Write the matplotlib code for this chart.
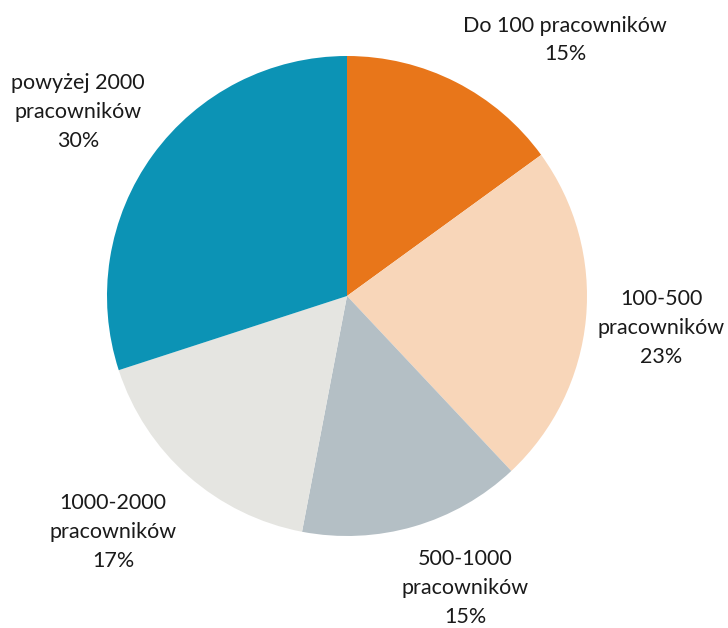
import matplotlib.pyplot as plt

# company size shares (clockwise from 12 o'clock)
categories = ['Do 100 pracowników', '100-500\npracowników', '500-1000\npracowników',
              '1000-2000\npracowników', 'powyżej 2000\npracowników']
shares = [15, 23, 15, 17, 30]
colors = ['#E8761A', '#F8D6B9', '#B4BFC5', '#E5E5E1', '#0C93B5']

# label anchor points in pixel coords (x, y from top)
label_pos = [(565, 40), (661, 328), (465, 588), (113, 532), (78, 112)]

W, H = 728, 628
plt.rcParams['font.family'] = ['Lato', 'DejaVu Sans']

fig = plt.figure(figsize=(W / 100, H / 100), dpi=100)
ax = fig.add_axes([0, 0, 1, 1])

ax.pie(shares, colors=colors, startangle=90, counterclock=False,
       center=(347, H - 296), radius=240, frame=True,
       wedgeprops=dict(linewidth=0))
ax.set_xlim(0, W)
ax.set_ylim(0, H)
ax.set_aspect('equal')
ax.axis('off')

for cat, val, (x, y) in zip(categories, shares, label_pos):
    ax.text(x, H - y, f'{cat}\n{val}%', ha='center', va='center',
            fontsize=15.5, color='#1a1a1a', linespacing=1.55)

fig.savefig('out.png', dpi=100)
